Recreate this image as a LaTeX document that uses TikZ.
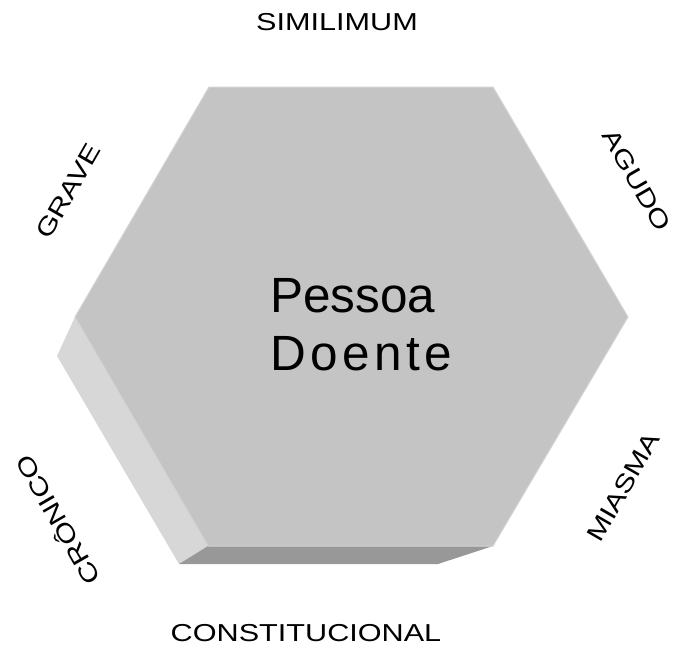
\documentclass[tikz,border=0pt]{standalone}
\usepackage{fontspec}
\setmainfont{Liberation Sans}
\newfontfamily\doentefont[LetterSpace=9]{Liberation Sans}
\definecolor{topface}{HTML}{C4C4C4}
\definecolor{topedge}{HTML}{D4D4D4}
\definecolor{leftface}{HTML}{D7D7D7}
\definecolor{botface}{HTML}{989898}
\newcommand{\wide}[1]{\scalebox{1.25}[1]{#1}}
\begin{document}
\begin{tikzpicture}[x=1pt,y=-1pt,
  lbl/.style={font=\fontsize{24.5}{28}\selectfont, text height=17.5pt, text depth=0pt, inner sep=0pt},
  big/.style={font=\fontsize{49.5}{58}\selectfont, text height=35.5pt, text depth=0pt, inner sep=0pt, anchor=west}]
\useasboundingbox (0,0) rectangle (680,654);
% top face vertices
\coordinate (A) at (209,87);
\coordinate (B) at (493,87);
\coordinate (C) at (628,317);
\coordinate (D) at (493,546);
\coordinate (E) at (208,546);
\coordinate (F) at (75,317);
% back vertices
\coordinate (F2) at (57,356);
\coordinate (E2) at (179,564);
\coordinate (D2) at (438,564);
% side faces
\fill[leftface] (F) -- (E) -- (E2) -- (F2) -- cycle;
\fill[botface] (E) -- (D) -- (D2) -- (E2) -- cycle;
% top face
\fill[topface] (A) -- (B) -- (C) -- (D) -- (E) -- (F) -- cycle;
\draw[topedge, line width=1pt, line join=round] (A) -- (B) -- (C) -- (D) -- (E) -- (F) -- cycle;
% labels
\node[lbl] (sim) at (337,21.5) {\wide{SIMILIMUM}};
\node[lbl] (con) at (306,633) {\wide{CONSTITUCIONAL}};
\node[lbl, rotate=60] (grave) at (68,191) {\wide{GRAVE}};
\node[lbl, rotate=-60] (agudo) at (637,180) {\wide{AGUDO}};
\node[lbl, rotate=60] (miasma) at (623,487) {\wide{MIASMA}};
\node[lbl, rotate=120] (cronico) at (58,520) {\wide{CRÔNICO}};
\node[big] (pessoa) at (270,294.5) {Pessoa};
\node[big, font=\doentefont\fontsize{49.5}{58}\selectfont] (doente) at (270,352.5) {Doente};
\end{tikzpicture}
\end{document}
